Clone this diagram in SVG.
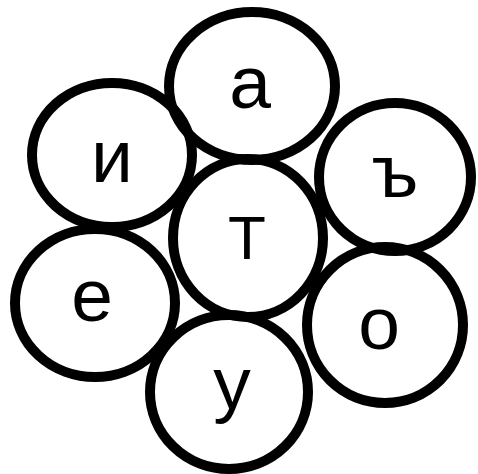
<svg xmlns="http://www.w3.org/2000/svg" width="478" height="474" viewBox="0 0 478 474">
<style>
.n ellipse{fill:none;stroke:#000;stroke-width:10}
.n text{font-family:"Liberation Sans",Arial,sans-serif;font-size:75px;fill:#000;text-anchor:middle}
</style>
<rect width="478" height="474" fill="#fff"/>
<g id="connectors"></g>
<g id="node-a" class="n"><ellipse cx="252" cy="86" rx="83" ry="74"/><text x="250" y="108">а</text></g>
<g id="node-i" class="n"><ellipse cx="112" cy="155" rx="80" ry="72"/><text x="112" y="182">и</text></g>
<g id="node-hard" class="n"><ellipse cx="395" cy="177" rx="76" ry="74"/><text x="395" y="197">ъ</text></g>
<g id="node-T" class="n"><ellipse cx="248" cy="238" rx="75" ry="79"/><text x="247" y="259" style="font-size:62px">Т</text></g>
<g id="node-e" class="n"><ellipse cx="95" cy="303" rx="80" ry="74"/><text x="92" y="321">е</text></g>
<g id="node-o" class="n"><ellipse cx="385" cy="325" rx="78" ry="78"/><text x="379" y="349">о</text></g>
<g id="node-u" class="n"><ellipse cx="229" cy="392" rx="79" ry="77"/><text x="232" y="409">у</text></g>
</svg>
